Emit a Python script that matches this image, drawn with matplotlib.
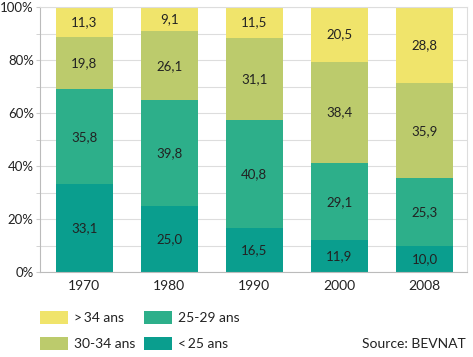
import numpy as np
import matplotlib.pyplot as plt
from matplotlib.patches import Rectangle

plt.rcParams['font.family'] = ['Lato', 'DejaVu Sans']

years = ['1970', '1980', '1990', '2000', '2008']
under25 = [33.1, 25.0, 16.5, 11.9, 10.0]
age25_29 = [35.8, 39.8, 40.8, 29.1, 25.3]
age30_34 = [19.8, 26.1, 31.1, 38.4, 35.9]
over34 = [11.3, 9.1, 11.5, 20.5, 28.8]

series = [under25, age25_29, age30_34, over34]
colors = ['#0a9e8e', '#2daf8a', '#bccb6c', '#f0e46b']
text_col = '#222222'

fig = plt.figure(figsize=(4.73, 3.57), dpi=100)
ax = fig.add_axes([40 / 473, 85 / 357, 427 / 473, 265 / 357])

x = np.arange(len(years))
bottom = np.zeros(len(years))
for vals, c in zip(series, colors):
    vals = np.array(vals)
    ax.bar(x, vals, width=0.67, bottom=bottom, color=c, zorder=2)
    for xi, b, v in zip(x, bottom, vals):
        ax.text(xi, b + v / 2, f'{v:.1f}'.replace('.', ','), ha='center', va='center',
                fontsize=9.5, color=text_col, zorder=3)
    bottom += vals

ax.set_xlim(-0.52, 4.5)
ax.set_ylim(0, 100)
ax.set_yticks(np.arange(0, 101, 20))
ax.set_yticklabels([f'{v}%' for v in range(0, 101, 20)], fontsize=9.5, color=text_col)
ax.set_yticks(np.arange(10, 100, 20), minor=True)
ax.set_xticks(x)
ax.set_xticklabels(years, fontsize=10, color=text_col)
ax.tick_params(axis='x', length=0, pad=6)
ax.tick_params(axis='y', which='both', length=3, color='#cccccc', pad=1.5)
ax.grid(axis='y', which='both', color='#dddddd', linewidth=0.8, zorder=0)
for s in ['top', 'right']:
    ax.spines[s].set_color('#dddddd')
for s in ['left', 'bottom']:
    ax.spines[s].set_color('#bbbbbb')

# legend
legend_items = [('>\u200934 ans', colors[3], 40, 318), ('30-34 ans', colors[2], 40, 344),
                ('25-29 ans', colors[1], 144, 318), ('<\u200925 ans', colors[0], 144, 344)]
for label, c, px, py in legend_items:
    fig.patches.append(Rectangle((px / 473, 1 - (py + 6) / 357), 28 / 473, 13 / 357,
                                 transform=fig.transFigure, facecolor=c, edgecolor='none'))
    fig.text((px + 34) / 473, 1 - py / 357, label, fontsize=10, color=text_col, va='center')

fig.text(466 / 473, 1 - 344 / 357, 'Source: BEVNAT', fontsize=10, color=text_col,
         ha='right', va='center')

plt.savefig('out.png', dpi=100)
